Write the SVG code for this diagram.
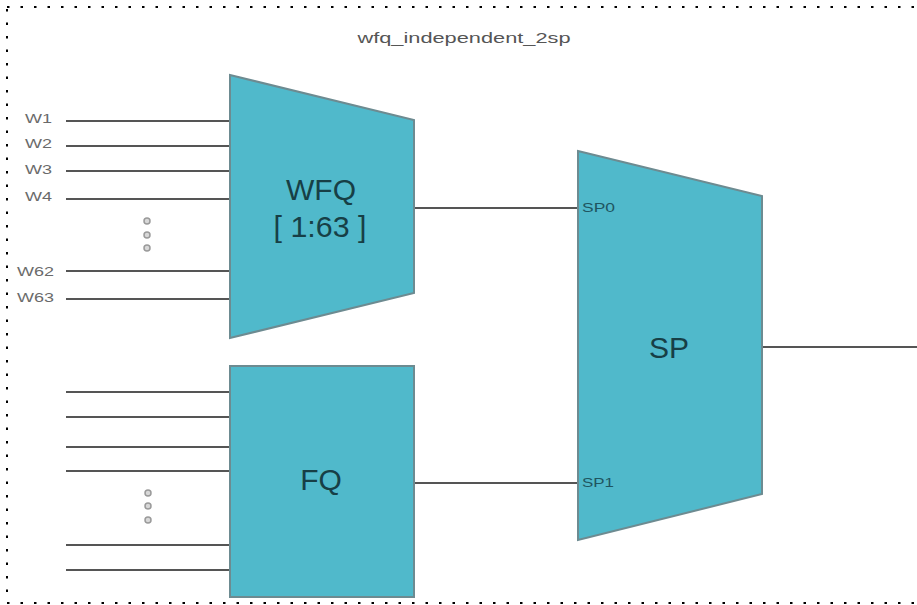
<svg xmlns="http://www.w3.org/2000/svg" width="917" height="605" viewBox="0 0 917 605">
<style>
.blk{fill:#50b9cb;stroke:#6d8b91;stroke-width:2}
.ln{stroke:#555;stroke-width:2;fill:none}
.big{font-family:"Liberation Sans",Arial,sans-serif;font-size:30px;fill:#173f46;text-anchor:middle}
.lab{font-family:"Liberation Sans",Arial,sans-serif;font-size:13px;fill:#6a6a6a}
.port{font-family:"Liberation Sans",Arial,sans-serif;font-size:12px;fill:#1f5560}
.dot{fill:#d8d8d8;stroke:#9a9a9a;stroke-width:1.5}
</style>
<rect width="917" height="605" fill="#fff"/>
<rect x="7" y="7" width="925" height="596" fill="none" stroke="#000" stroke-width="2" stroke-dasharray="2.5 11"/>
<text x="464" y="43" font-family="Liberation Sans, Arial, sans-serif" font-size="15" fill="#555" text-anchor="middle" textLength="213" lengthAdjust="spacingAndGlyphs">wfq_independent_2sp</text>
<g id="connectors">
<line class="ln" x1="66" y1="121" x2="230" y2="121"/>
<line class="ln" x1="66" y1="146" x2="230" y2="146"/>
<line class="ln" x1="66" y1="171" x2="230" y2="171"/>
<line class="ln" x1="66" y1="199" x2="230" y2="199"/>
<line class="ln" x1="66" y1="271" x2="230" y2="271"/>
<line class="ln" x1="66" y1="299" x2="230" y2="299"/>
<line class="ln" x1="66" y1="392" x2="230" y2="392"/>
<line class="ln" x1="66" y1="417" x2="230" y2="417"/>
<line class="ln" x1="66" y1="447" x2="230" y2="447"/>
<line class="ln" x1="66" y1="471" x2="230" y2="471"/>
<line class="ln" x1="66" y1="545" x2="230" y2="545"/>
<line class="ln" x1="66" y1="570" x2="230" y2="570"/>
<line class="ln" x1="414" y1="208" x2="578" y2="208"/>
<line class="ln" x1="414" y1="483" x2="578" y2="483"/>
<line class="ln" x1="762" y1="347" x2="917" y2="347"/>
</g>
<g id="labels">
<text class="lab" x="25" y="123" textLength="27" lengthAdjust="spacingAndGlyphs">W1</text>
<text class="lab" x="25" y="148" textLength="27" lengthAdjust="spacingAndGlyphs">W2</text>
<text class="lab" x="25" y="174" textLength="27" lengthAdjust="spacingAndGlyphs">W3</text>
<text class="lab" x="25" y="201" textLength="27" lengthAdjust="spacingAndGlyphs">W4</text>
<text class="lab" x="17" y="276" textLength="37" lengthAdjust="spacingAndGlyphs">W62</text>
<text class="lab" x="17" y="302" textLength="37" lengthAdjust="spacingAndGlyphs">W63</text>
<circle class="dot" cx="147" cy="221" r="3"/>
<circle class="dot" cx="147" cy="235" r="3"/>
<circle class="dot" cx="147" cy="248" r="3"/>
<circle class="dot" cx="148" cy="493" r="3"/>
<circle class="dot" cx="148" cy="506" r="3"/>
<circle class="dot" cx="148" cy="520" r="3"/>
</g>
<g id="wfq">
<polygon class="blk" points="230,75 414,120 414,293 230,338"/>
<text class="big" x="321" y="200" font-size="28">WFQ</text>
<text class="big" x="320" y="237" font-size="28" textLength="93" lengthAdjust="spacingAndGlyphs">[ 1:63 ]</text>
</g>
<g id="fq">
<rect class="blk" x="230" y="366" width="184" height="231"/>
<text class="big" x="321" y="490">FQ</text>
</g>
<g id="sp">
<polygon class="blk" points="578,151 762,196 762,494 578,540"/>
<text class="big" x="669" y="358">SP</text>
<text class="port" x="582" y="212" textLength="33" lengthAdjust="spacingAndGlyphs">SP0</text>
<text class="port" x="582" y="487" textLength="32" lengthAdjust="spacingAndGlyphs">SP1</text>
</g>
</svg>
